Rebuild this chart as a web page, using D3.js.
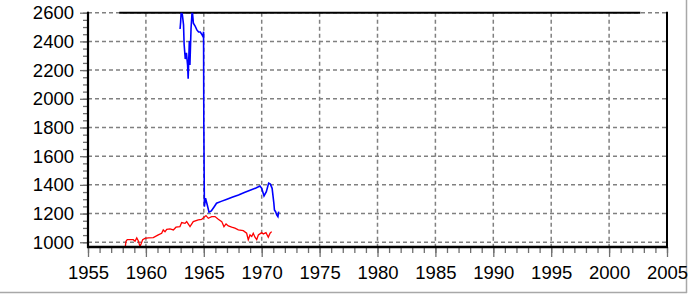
<!DOCTYPE html>
<html><head><meta charset="utf-8">
<script src="https://cdn.jsdelivr.net/npm/d3@7"></script>
<style>html,body{margin:0;padding:0;background:#fff;overflow:hidden}svg{display:block}</style>
</head><body>
<svg id="c" width="688" height="294"></svg>
<script>
const xTicks = [1955,1960,1965,1970,1975,1980,1985,1990,1995,2000,2005];
const yTicks = [1000,1200,1400,1600,1800,2000,2200,2400,2600];

const blueYears = [1962.95,1963.0,1963.05,1963.15,1963.25,1963.3,1963.4,1963.45,1963.5,1963.6,1963.65,1963.75,1963.8,1963.9,1964.0,1964.1,1964.25,1964.4,1964.55,1964.7,1964.85,1964.93,1964.98,1965.0,1965.05,1965.15,1965.3,1965.45,1965.65,1965.9,1966.1,1966.5,1967.0,1967.5,1968.0,1968.5,1969.0,1969.5,1969.85,1970.0,1970.2,1970.4,1970.6,1970.75,1970.9,1971.05,1971.1,1971.2,1971.3,1971.4,1971.47];
const blueValues = [2486,2535,2610,2585,2515,2380,2277,2305,2320,2235,2140,2403,2235,2493,2620,2527,2507,2480,2465,2465,2445,2433,2468,1852,1248,1307,1260,1210,1218,1248,1272,1285,1300,1315,1330,1347,1362,1378,1392,1376,1323,1353,1412,1405,1376,1272,1225,1213,1190,1178,1213];

const redYears = [1958.2,1958.28,1958.39,1958.91,1959.06,1959.21,1959.34,1959.49,1959.58,1959.72,1959.92,1960.21,1960.64,1961.07,1961.36,1961.5,1961.65,1961.8,1962.08,1962.37,1962.6,1962.94,1963.09,1963.38,1963.52,1963.81,1964.09,1964.52,1964.82,1965.19,1965.39,1965.68,1965.97,1966.25,1966.55,1966.74,1966.92,1967.12,1967.41,1967.69,1967.98,1968.41,1968.7,1968.84,1968.99,1969.14,1969.27,1969.42,1969.57,1969.71,1970.0,1970.14,1970.37,1970.57,1970.72,1970.86];
const redValues = [955,1007,1018,1018,1007,1030,1011,970,988,1018,1027,1030,1032,1051,1063,1086,1074,1090,1093,1086,1105,1109,1137,1132,1144,1109,1144,1156,1160,1186,1167,1179,1179,1160,1144,1109,1128,1114,1105,1098,1086,1081,1063,1018,1051,1040,1063,1035,1018,1051,1067,1058,1067,1035,1063,1074];

const svg = d3.select("#c");
const L = 88, R = 667, T = 12.7, B = 247;
const x = d3.scaleLinear().domain([1955,2005]).range([L,R]);
const y = d3.scaleLinear().domain([967,2600]).range([B,T]);

// outer light frame
svg.append("line").attr("x1",686.5).attr("x2",686.5).attr("y1",0).attr("y2",293).attr("stroke","#a8a8a8").attr("stroke-width",1.5);
svg.append("line").attr("x1",0).attr("x2",687).attr("y1",292.5).attr("y2",292.5).attr("stroke","#a8a8a8").attr("stroke-width",1.5);

// grid
const g = svg.append("g");
g.selectAll("line.gy").data(yTicks).join("line")
  .attr("x1",L).attr("x2",R).attr("y1",d=>y(d)).attr("y2",d=>y(d))
  .attr("stroke","#808080").attr("stroke-width",1.5).attr("stroke-dasharray","4,3");
g.selectAll("line.gx").data(xTicks).join("line")
  .attr("x1",d=>x(d)).attr("x2",d=>x(d)).attr("y1",T).attr("y2",B)
  .attr("stroke","#808080").attr("stroke-width",1.5).attr("stroke-dasharray","4,3");

// top solid segment
svg.append("line").attr("x1",x(1957.7)).attr("x2",x(2002.7)).attr("y1",T).attr("y2",T)
  .attr("stroke","#000").attr("stroke-width",2);

// clip
svg.append("clipPath").attr("id","clip").append("rect").attr("x",L).attr("y",T).attr("width",R-L).attr("height",B-T);

const line = d3.line().x(d=>x(d[0])).y(d=>y(d[1]));
svg.append("path").attr("clip-path","url(#clip)")
  .attr("d", line(redYears.map((t,i)=>[t,redValues[i]])))
  .attr("fill","none").attr("stroke","#ff0000").attr("stroke-width",1.3);
svg.append("path").attr("clip-path","url(#clip)")
  .attr("d", line(blueYears.map((t,i)=>[t,blueValues[i]])))
  .attr("fill","none").attr("stroke","#0000ff").attr("stroke-width",1.6);

// axes
const xAxisMinor = d3.axisBottom(x).tickValues(d3.range(1955,2006,1)).tickSize(6).tickFormat("");
const xAxisMajor = d3.axisBottom(x).tickValues(xTicks).tickSize(10).tickPadding(9).tickFormat(d3.format("d"));
const yAxisMinor = d3.axisLeft(y).tickValues(d3.range(1000,2601,50)).tickSize(5).tickFormat("");
const yAxisMajor = d3.axisLeft(y).tickValues(yTicks).tickSize(8).tickPadding(6).tickFormat(d3.format("d"));

function style(sel){
  sel.select(".domain").remove();
  sel.selectAll(".tick line").attr("stroke","#707070").attr("stroke-width",1.3);
  sel.selectAll("text").attr("fill","#000").style("font-family","'Liberation Sans', Arial, sans-serif").style("font-size","18.5px");
}
svg.append("g").attr("transform",`translate(0,${B})`).call(xAxisMinor).call(style);
svg.append("g").attr("transform",`translate(0,${B})`).call(xAxisMajor).call(style);
svg.append("g").attr("transform",`translate(0,${B})`).selectAll("*").remove();
svg.append("g").attr("transform",`translate(${L},0)`).call(yAxisMinor).call(style);
svg.append("g").attr("transform",`translate(${L},0)`).call(yAxisMajor).call(style);

// frame lines
svg.append("line").attr("x1",L).attr("x2",L).attr("y1",T-1).attr("y2",B+1).attr("stroke","#000").attr("stroke-width",2.2);
svg.append("line").attr("x1",L-1).attr("x2",R+1).attr("y1",B).attr("y2",B).attr("stroke","#000").attr("stroke-width",2.6);
svg.append("line").attr("x1",R).attr("x2",R).attr("y1",T-1).attr("y2",B).attr("stroke","#000").attr("stroke-width",2);
</script>
</body></html>
